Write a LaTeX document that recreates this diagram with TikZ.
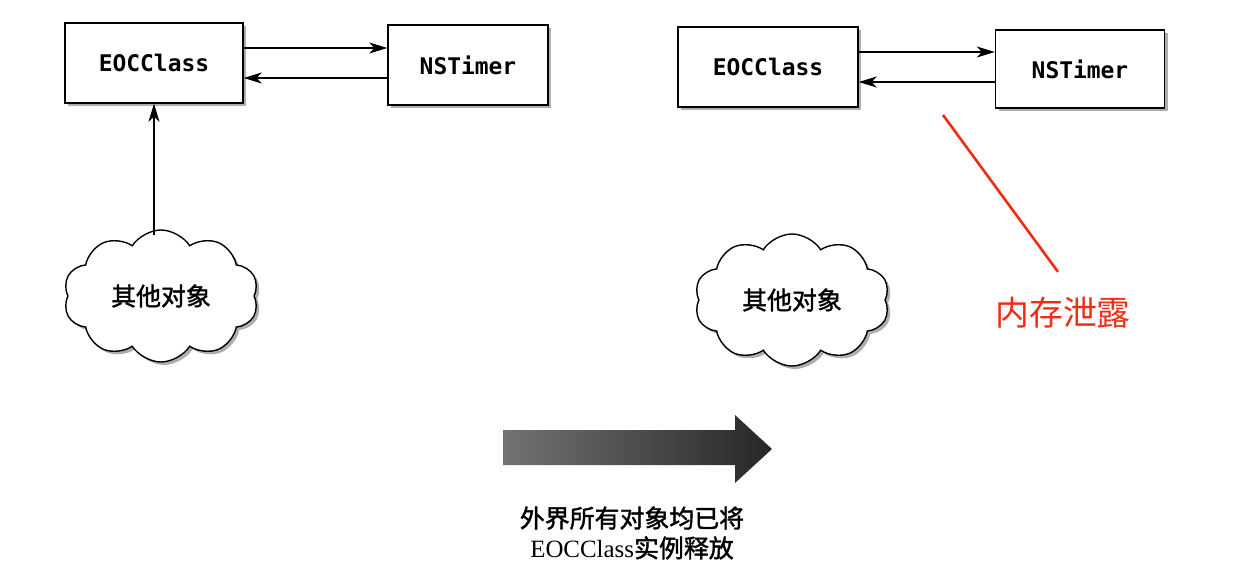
\documentclass[tikz,border=0pt]{standalone}
\usepackage{fontspec}
\setmonofont{DejaVu Sans Mono}
\newfontfamily\cjk{Noto Sans CJK SC}
\newfontfamily\cjkmid[FakeBold=1.6]{Noto Sans CJK SC}
\newfontfamily\lserif{Liberation Serif}
\usepackage{tikz}
\usetikzlibrary{arrows.meta}
\usetikzlibrary{shapes.symbols}
\usetikzlibrary{shadows}

\definecolor{leakred}{RGB}{240,45,20}

\tikzset{
	objbox/.style={draw, line width=1.4bp, fill=white, minimum height=80bp,
		font=\ttfamily\bfseries\fontsize{23}{26}\selectfont,
		drop shadow={shadow xshift=3bp, shadow yshift=-3bp, opacity=0.45, fill=black!70}},
	others/.style={cloud, cloud puffs=10, cloud puff arc=115, aspect=1.5, draw,
		line width=1.4bp, fill=white, minimum width=195bp, minimum height=132bp,
		font=\cjkmid\fontsize{25}{28}\selectfont,
		drop shadow={shadow xshift=3bp, shadow yshift=-3bp, opacity=0.45, fill=black!70}},
	ref/.style={line width=1.2bp, -{Stealth[length=18bp,width=11bp,inset=5bp]}}
}

\begin{document}
\begin{tikzpicture}[x=1bp, y=-1bp]
	\useasboundingbox[fill=white] (0,0) rectangle (1246,580);

	% before
	\node[objbox, minimum width=178bp] (eocL) at (154,63) {EOCClass};
	\node[objbox, minimum width=160bp] (timerL) at (468,65) {NSTimer};
	\node[others] (cloudL) at (161,296) {其他对象};

	\draw[ref] ([yshift=15bp]eocL.east) -- ([yshift=15bp]eocL.east -| timerL.west);
	\draw[ref] ([yshift=-15bp]eocL.east -| timerL.west) -- ([yshift=-15bp]eocL.east);
	\draw[ref] (eocL.south |- cloudL.north) ++(0,6) -- (eocL.south);

	% after
	\node[objbox, minimum width=180bp] (eocR) at (768,67) {EOCClass};
	\node[objbox, minimum width=169bp, minimum height=78bp] (timerR) at (1080,69) {NSTimer};
	\node[others] (cloudR) at (792,300) {其他对象};

	\draw[ref] ([yshift=15bp]eocR.east) -- ([yshift=15bp]eocR.east -| timerR.west);
	\draw[ref] ([yshift=-15bp]eocR.east -| timerR.west) -- ([yshift=-15bp]eocR.east);

	\node[text=leakred, font=\cjk\fontsize{34}{36}\selectfont] (leak) at (1063,313) {内存泄露};
	\coordinate (leakTail) at (943,115);
	\draw[leakred, line width=2.6bp] (leakTail) -- ([shift={(-5bp,22bp)}]leak.north);

	% release
	\shade[left color=black!55, right color=black!85]
		(503,430) -- (735,430) -- (735,415) -- (772,449) -- (735,483) -- (735,465) -- (503,465) -- cycle;
	\node[align=center, font=\fontsize{25}{30}\selectfont] (released) at (632,533)
		{{\cjkmid 外界所有对象均已将}\\{\lserif EOCClass}{\cjkmid 实例释放}};
\end{tikzpicture}
\end{document}
